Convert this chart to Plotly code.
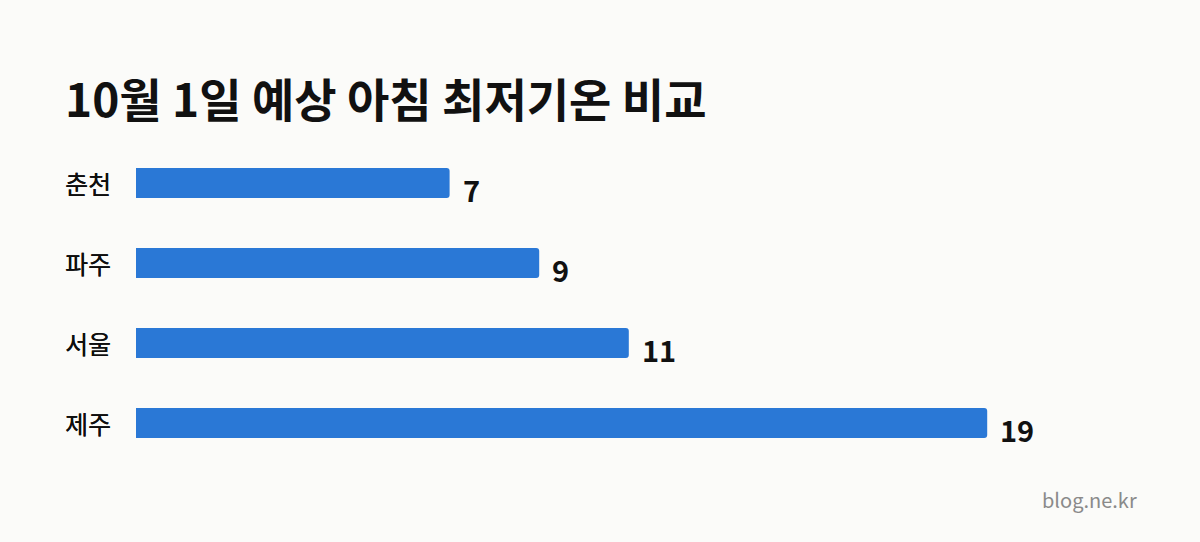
import plotly.graph_objects as go

# data
cities = ["춘천", "파주", "서울", "제주"]
temps = [7, 9, 11, 19]

title_text = "10월 1일 예상 아침 최저기온 비교"
source_text = "blog.ne.kr"

bar_color = "#2A78D6"
bg_color = "#FBFBF9"
font_family = "Noto Sans CJK KR"

fig = go.Figure(
    go.Bar(
        x=temps,
        y=cities,
        orientation="h",
        marker=dict(color=bar_color, line_width=0),
        hoverinfo="skip",
    )
)

# city names on the left, flush left
for c in cities:
    fig.add_annotation(
        x=-0.073, xref="paper", y=c, yref="y",
        text=c, showarrow=False, xanchor="left", yanchor="middle",
        font=dict(family=font_family, size=25, color="#0E0E0E",
                  shadow="0.35px 0 0 #0E0E0E"),
    )

# values right of the bars
for c, t in zip(cities, temps):
    fig.add_annotation(
        x=t, xref="x", y=c, yref="y",
        text="<b>%d</b>" % t, showarrow=False, xanchor="left", yanchor="middle",
        xshift=11, yshift=-6,
        font=dict(family=font_family, size=29, color="#111111"),
    )

fig.add_annotation(
    x=1.003, xref="paper", y=-0.1156, yref="paper",
    text=source_text, showarrow=False, xanchor="right", yanchor="middle",
    font=dict(family=font_family, size=20, color="#8A8A8A"),
)

fig.update_layout(
    width=1200, height=542,
    margin=dict(l=136, r=64, t=143, b=79),
    paper_bgcolor=bg_color, plot_bgcolor=bg_color,
    title=dict(
        text="<b>" + title_text + "</b>",
        x=65 / 1200, xref="container", xanchor="left",
        y=1 - 101 / 542, yref="container", yanchor="middle",
        font=dict(family=font_family, size=46, color="#111111"),
    ),
    bargap=0.625,
    barcornerradius=3,
    showlegend=False,
    font=dict(family=font_family),
)
fig.update_xaxes(range=[0, 1000 / 44.8], visible=False, fixedrange=True)
fig.update_yaxes(autorange="reversed", showticklabels=False, showgrid=False,
                 zeroline=False, fixedrange=True)

# drop the default page margin so the chart sits at the window corner
fig.write_html("out.html", config={"displayModeBar": False},
               post_script="document.body.style.margin='0';"
                           "document.body.style.background='%s';" % bg_color)
